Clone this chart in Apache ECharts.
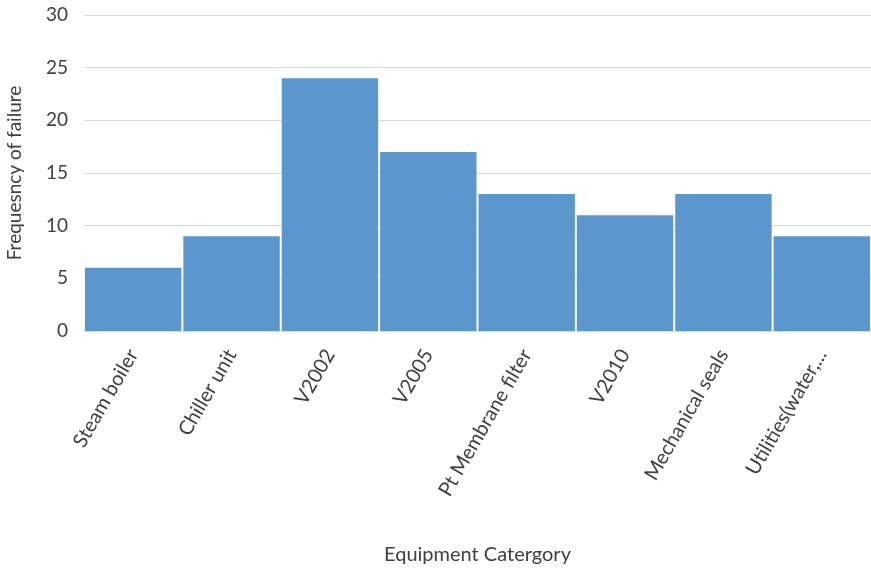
<!DOCTYPE html>
<html>
<head>
<meta charset="utf-8">
<script src="https://cdn.jsdelivr.net/npm/echarts@6/dist/echarts.min.js"></script>
<style>
  html, body { margin: 0; padding: 0; background: #fff; }
  #chart { width: 871px; height: 568px; }
</style>
</head>
<body>
<div id="chart"></div>
<script>
// Equipment categories and how often each failed
const categories = [
  'Steam boiler', 'Chiller unit', 'V2002', 'V2005',
  'Pt Membrane filter', 'V2010', 'Mechanical seals', 'Utilities(water,...'
];
const failures = [6, 9, 24, 17, 13, 11, 13, 9];
const yTicks = [0, 5, 10, 15, 20, 25, 30];

const font = 'Lato, "Open Sans", sans-serif';
const chart = echarts.init(document.getElementById('chart'));

chart.setOption({
  animation: false,
  grid: { left: 84, right: 0, top: 15, bottom: 237, outerBoundsMode: 'none' },
  xAxis: {
    type: 'category',
    data: categories,
    name: 'Equipment Catergory',
    nameLocation: 'middle',
    nameGap: 214,
    nameTextStyle: { fontFamily: font, fontSize: 20, color: '#404040' },
    axisLine: { show: true, lineStyle: { color: '#d9d9d9', width: 1 } },
    axisTick: { show: false },
    axisLabel: {
      interval: 0,
      rotate: 60,
      margin: 20,
      fontFamily: font,
      fontSize: 20,
      color: '#404040'
    }
  },
  yAxis: {
    type: 'value',
    min: yTicks[0],
    max: yTicks[yTicks.length - 1],
    interval: yTicks[1] - yTicks[0],
    name: 'Frequesncy of failure',
    nameLocation: 'middle',
    nameGap: 60,
    nameTextStyle: { fontFamily: font, fontSize: 19, color: '#404040' },
    axisLine: { show: false },
    axisTick: { show: false },
    axisLabel: { margin: 16, fontFamily: font, fontSize: 19, color: '#404040' },
    splitLine: { lineStyle: { color: '#d9d9d9', width: 1 } }
  },
  series: [{
    type: 'bar',
    data: failures,
    barCategoryGap: '2%',
    itemStyle: { color: '#5b97cc' }
  }]
});
</script>
</body>
</html>
